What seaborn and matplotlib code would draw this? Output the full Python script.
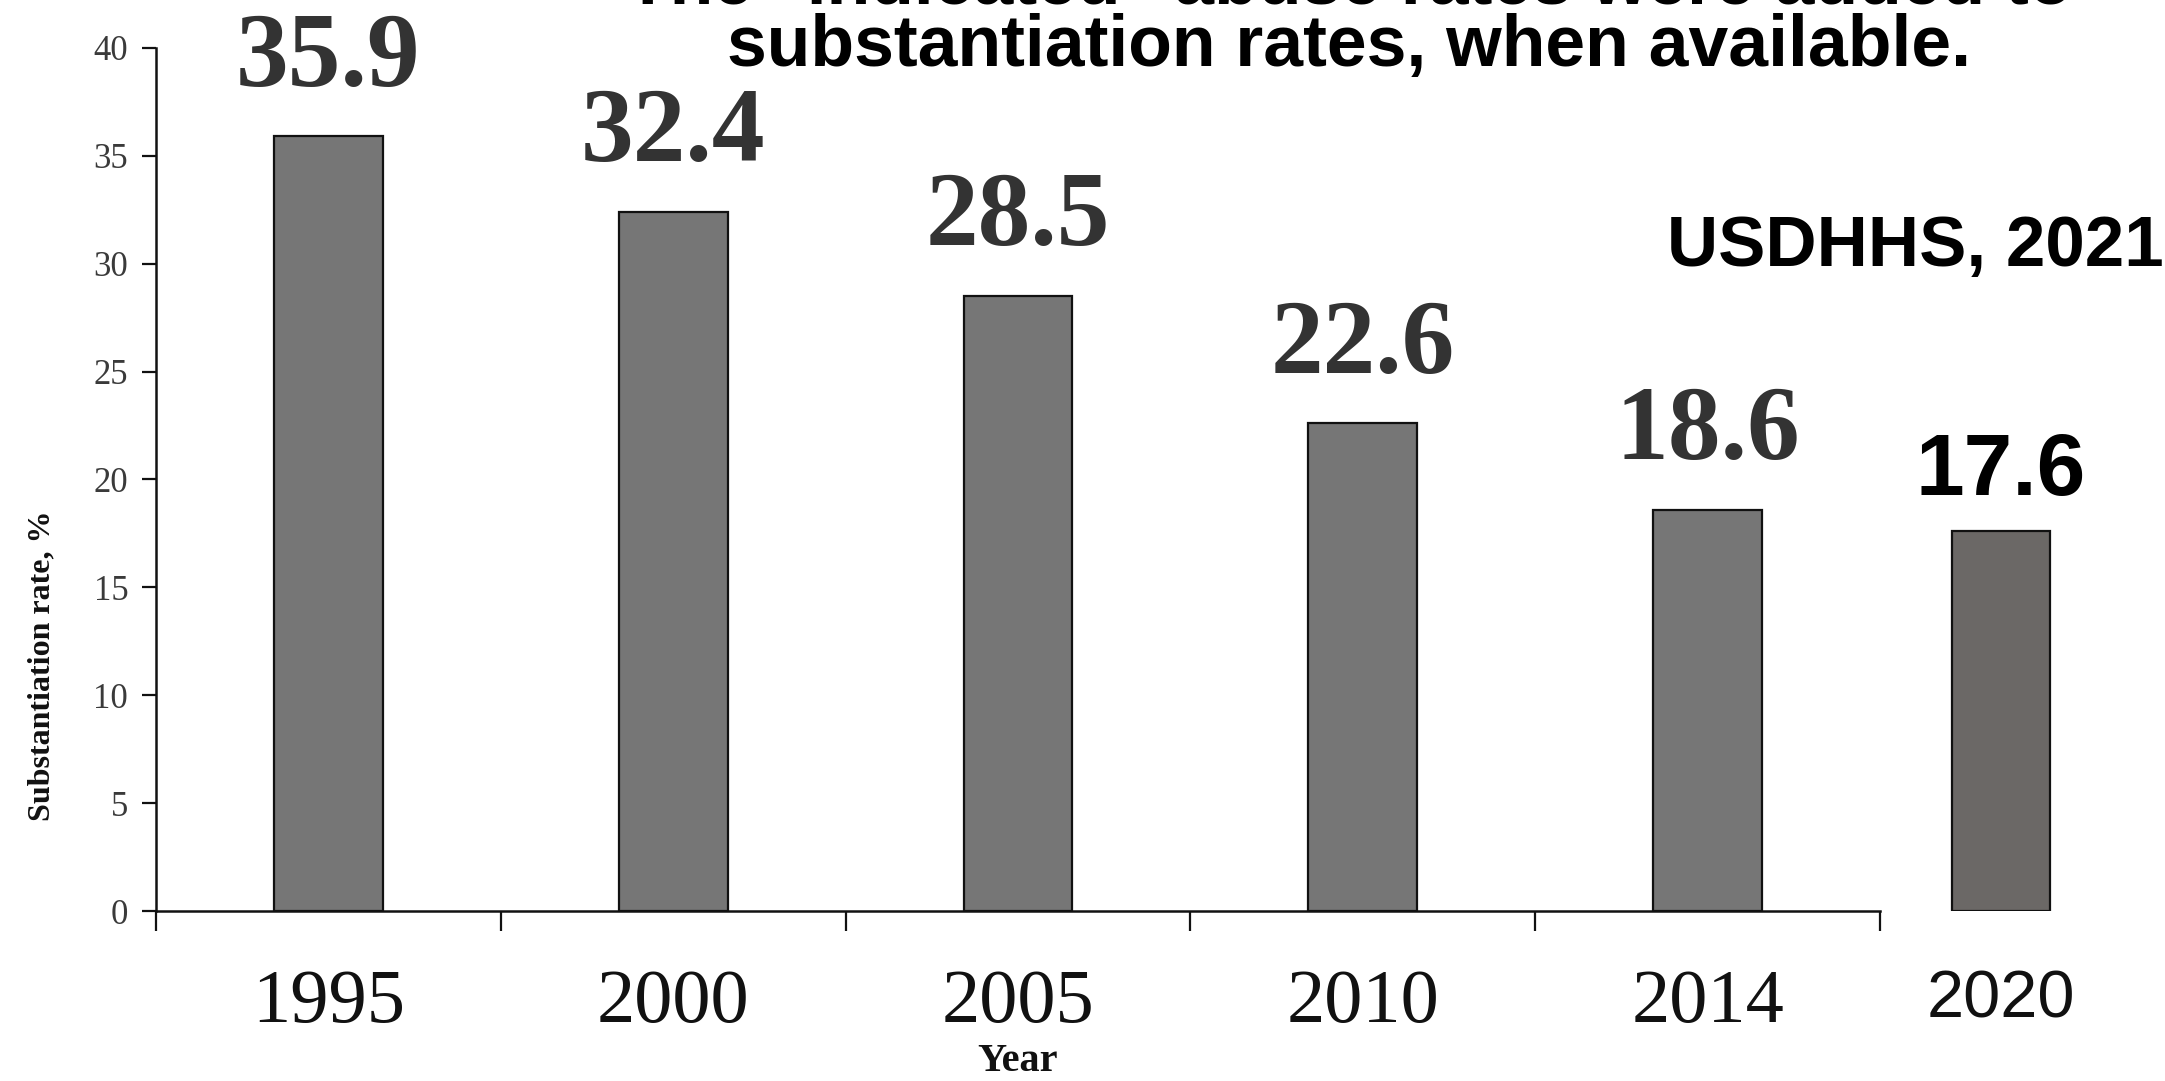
import matplotlib
matplotlib.use("Agg")
import matplotlib.pyplot as plt
import seaborn as sns

# Substantiation rates by year (main series) and the later 2020 figure
years = ["1995", "2000", "2005", "2010", "2014"]
rates = [35.9, 32.4, 28.5, 22.6, 18.6]
latest_year = ["2020"]
latest_rate = [17.6]
y_ticks = [0, 5, 10, 15, 20, 25, 30, 35, 40]

title_lines = ['The "indicated" abuse rates were added to',
               "substantiation rates, when available."]
source_note = "USDHHS, 2021"
y_label = "Substantiation rate, %"
x_label = "Year"

sns.set_style("ticks")
plt.rcParams["font.family"] = ["Liberation Serif", "DejaVu Serif"]
SANS = ["Liberation Sans", "DejaVu Sans"]

W, H = 2165, 1081
fig = plt.figure(figsize=(W / 100, H / 100), dpi=100)
fig.patch.set_facecolor("white")


def px_rect(left, top, right, bottom):
    return [left / W, 1 - bottom / H, (right - left) / W, (bottom - top) / H]


def fig_xy(x, y):
    return x / W, 1 - y / H


ax = fig.add_axes(px_rect(156, 48, 1880, 911))
ax2 = fig.add_axes(px_rect(1844.5, 48, 2157.5, 911))
ax2.set_facecolor("none")

# main bars
sns.barplot(x=years, y=rates, color="#767676", saturation=1, width=0.316,
            edgecolor="#111111", linewidth=1.6, ax=ax)
ax.set_xlim(-0.5, len(years) - 0.5)
ax.set_ylim(0, 40)
sns.despine(ax=ax)
for side in ("left", "bottom"):
    ax.spines[side].set_linewidth(1.8)
    ax.spines[side].set_color("#111111")

ax.set_yticks(y_ticks)
ax.tick_params(axis="y", length=10, width=1.6, pad=10, labelsize=25,
               labelcolor="#3a3a3a", color="#111111")

bounds = [i - 0.5 for i in range(len(years) + 1)]
ax.set_xticks(bounds, labels=[""] * len(bounds))
ax.set_xticks(range(len(years)), labels=years, minor=True)
ax.tick_params(axis="x", which="major", length=14.5, width=1.6, color="#111111")
ax.tick_params(axis="x", which="minor", length=0, pad=42, labelsize=55,
               labelcolor="#111111")

ax.set_ylabel(y_label, fontsize=23, fontweight="bold", color="#111111")
ax.yaxis.set_label_coords(-0.058, 0.284)
ax.set_xlabel(x_label, fontsize=29, fontweight="bold", color="#111111")
ax.xaxis.set_label_coords(0.5, -0.153)

ax.bar_label(ax.containers[0], fmt="%.1f", padding=20, fontsize=76,
             fontweight="bold", color="#333333")

# 2020 bar, set apart from the main axis
sns.barplot(x=latest_year, y=latest_rate, color="#6b6866", saturation=1,
            width=0.316, edgecolor="#111111", linewidth=1.6, ax=ax2)
ax2.set_xlim(-0.5, 0.5)
ax2.set_ylim(0, 40)
for s in ax2.spines.values():
    s.set_visible(False)
ax2.set_yticks([])
ax2.set_xticks([0], labels=latest_year)
ax2.tick_params(axis="x", length=0, pad=42, labelsize=48, labelcolor="#111111")
for lbl in ax2.get_xticklabels():
    lbl.set_family(SANS)
ax2.set_xlabel("")
ax2.set_ylabel("")
ax2.bar_label(ax2.containers[0], fmt="%.1f", padding=13, fontsize=63,
              fontweight="bold", color="black", family=SANS)

# heading and source
fig.text(*fig_xy(1349, 4), title_lines[0], ha="center", va="baseline",
         fontsize=51.5, fontweight="bold", family=SANS, color="black")
fig.text(*fig_xy(1349, 66), title_lines[1], ha="center", va="baseline",
         fontsize=51.5, fontweight="bold", family=SANS, color="black")
fig.text(*fig_xy(1667, 266), source_note, ha="left", va="baseline",
         fontsize=51, fontweight="bold", family=SANS, color="black")

fig.savefig("out.png", dpi=100, facecolor="white")
